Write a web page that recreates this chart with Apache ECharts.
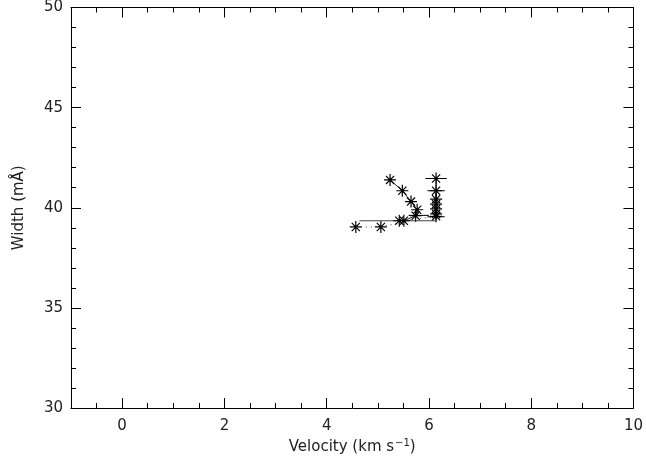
<!DOCTYPE html>
<html>
<head>
<meta charset="utf-8">
<script src="https://cdn.jsdelivr.net/npm/echarts@6/dist/echarts.min.js"></script>
<style>html,body{margin:0;padding:0;background:#fff}#c{width:646px;height:463px}</style>
</head>
<body>
<div id="c"></div>
<script>
// ---- data ----
const xMajorTicks = [0, 2, 4, 6, 8, 10];
const yTicks = [30, 35, 40, 45, 50];
// asterisks joined by a solid line (slanted branch)
const slantX = [5.24, 5.48, 5.65, 5.77, 5.74, 5.51, 5.42];
const slantY = [41.39, 40.85, 40.31, 39.90, 39.60, 39.35, 39.35];
// right column of asterisks
const colX = [6.14, 6.14, 6.14, 6.14, 6.14, 6.14, 6.14];
const colY = [41.46, 40.85, 40.43, 40.18, 39.94, 39.69, 39.57];
// low asterisks joined by a dotted line
const lowX = [4.57, 5.06];
const lowY = [39.04, 39.04];
const dotX = [4.57, 5.06, 5.42, 5.74, 6.14];
const dotY = [39.04, 39.04, 39.25, 39.45, 39.55];
// solid horizontal line
const flatX = [4.64, 6.14];
const flatY = [39.35, 39.35];
// horizontal error bars
const errX = [6.14, 6.14, 5.80, 6.14];
const errY = [41.46, 40.85, 39.62, 39.55];
const errHalf = [0.21, 0.17, 0.20, 0.17];

const zip = (a, b) => a.map((v, i) => [v, b[i]]);
const FONT = 'DejaVu Sans';
const INK = '#222';
const star = 'path://M5,0L5,10M0,5L10,5M1.6,1.6L8.4,8.4M1.6,8.4L8.4,1.6';
const starStyle = { color: '#000', borderColor: '#000', borderWidth: 1.2, opacity: 1 };

const axisLine = { show: true, onZero: false, lineStyle: { color: '#000', width: 1 } };
const noLine = { show: false, onZero: false };
const labelStyle = { color: INK, fontFamily: FONT, fontSize: 15 };

const chart = echarts.init(document.getElementById('c'), null, { renderer: 'canvas' });
chart.setOption({
  animation: false,
  backgroundColor: '#fff',
  grid: { left: 71, right: 11, top: 6, bottom: 55 },
  xAxis: [
    { type: 'value', position: 'bottom', min: -1, max: 10, interval: 0.5,
      axisLine, splitLine: { show: false },
      axisTick: { inside: true, length: 5, lineStyle: { color: '#000' } },
      axisLabel: { show: false } },
    { type: 'value', position: 'bottom', min: -1, max: 10,
      axisLine: noLine, splitLine: { show: false },
      axisTick: { inside: true, length: 10, customValues: xMajorTicks, lineStyle: { color: '#000' } },
      axisLabel: Object.assign({ customValues: xMajorTicks, margin: 11 }, labelStyle),
      name: '{a|Velocity (km s}{s|−1}{a|)}', nameLocation: 'middle', nameGap: 29,
      nameTextStyle: { rich: { a: { fontFamily: FONT, fontSize: 15, color: INK },
                               s: { fontFamily: FONT, fontSize: 10, color: INK, verticalAlign: 'top', padding: [0, 0, 6, 1] } } } },
    { type: 'value', position: 'top', min: -1, max: 10, interval: 0.5,
      axisLine, splitLine: { show: false },
      axisTick: { inside: true, length: 5, lineStyle: { color: '#000' } },
      axisLabel: { show: false } },
    { type: 'value', position: 'top', min: -1, max: 10,
      axisLine: noLine, splitLine: { show: false },
      axisTick: { inside: true, length: 10, customValues: xMajorTicks, lineStyle: { color: '#000' } },
      axisLabel: { show: false } }
  ],
  yAxis: [
    { type: 'value', position: 'left', min: 30, max: 50, interval: 5,
      axisLine, splitLine: { show: false }, minorSplitLine: { show: false },
      axisTick: { inside: true, length: 10, lineStyle: { color: '#000' } },
      minorTick: { show: true, splitNumber: 5, length: 5, lineStyle: { color: '#000' } },
      axisLabel: Object.assign({ margin: 8, customValues: yTicks }, labelStyle),
      name: 'Width (mÅ)', nameLocation: 'middle', nameGap: 44, nameRotate: 90,
      nameTextStyle: { fontFamily: FONT, fontSize: 15, color: INK } },
    { type: 'value', position: 'right', min: 30, max: 50, interval: 5,
      axisLine, splitLine: { show: false },
      axisTick: { inside: true, length: 10, lineStyle: { color: '#000' } },
      minorTick: { show: true, splitNumber: 5, length: 5, lineStyle: { color: '#000' } },
      axisLabel: { show: false } }
  ],
  series: [
    { type: 'line', xAxisIndex: 0, yAxisIndex: 0, data: zip(flatX, flatY),
      showSymbol: false, lineStyle: { color: '#444', width: 1 } },
    { type: 'line', xAxisIndex: 0, yAxisIndex: 0, data: zip(dotX, dotY),
      showSymbol: false, lineStyle: { color: '#444', width: 1, type: [1, 4] } },
    { type: 'line', xAxisIndex: 0, yAxisIndex: 0, data: zip(slantX, slantY),
      symbol: star, symbolSize: 12, lineStyle: { color: '#222', width: 1 }, itemStyle: starStyle },
    { type: 'line', xAxisIndex: 0, yAxisIndex: 0, data: zip(colX, colY),
      symbol: star, symbolSize: 12, lineStyle: { color: '#222', width: 1 }, itemStyle: starStyle },
    { type: 'scatter', xAxisIndex: 0, yAxisIndex: 0, data: zip(lowX, lowY),
      symbol: star, symbolSize: 12, itemStyle: starStyle },
    { type: 'custom', xAxisIndex: 0, yAxisIndex: 0,
      data: errX.map((x, i) => [x, errY[i], errHalf[i]]),
      renderItem: function (params, api) {
        const x = api.value(0), y = api.value(1), h = api.value(2);
        const p1 = api.coord([x - h, y]);
        const p2 = api.coord([x + h, y]);
        return { type: 'line', shape: { x1: p1[0], y1: p1[1], x2: p2[0], y2: p2[1] },
                 style: { stroke: '#000', lineWidth: 1 } };
      } }
  ]
});
</script>
</body>
</html>
